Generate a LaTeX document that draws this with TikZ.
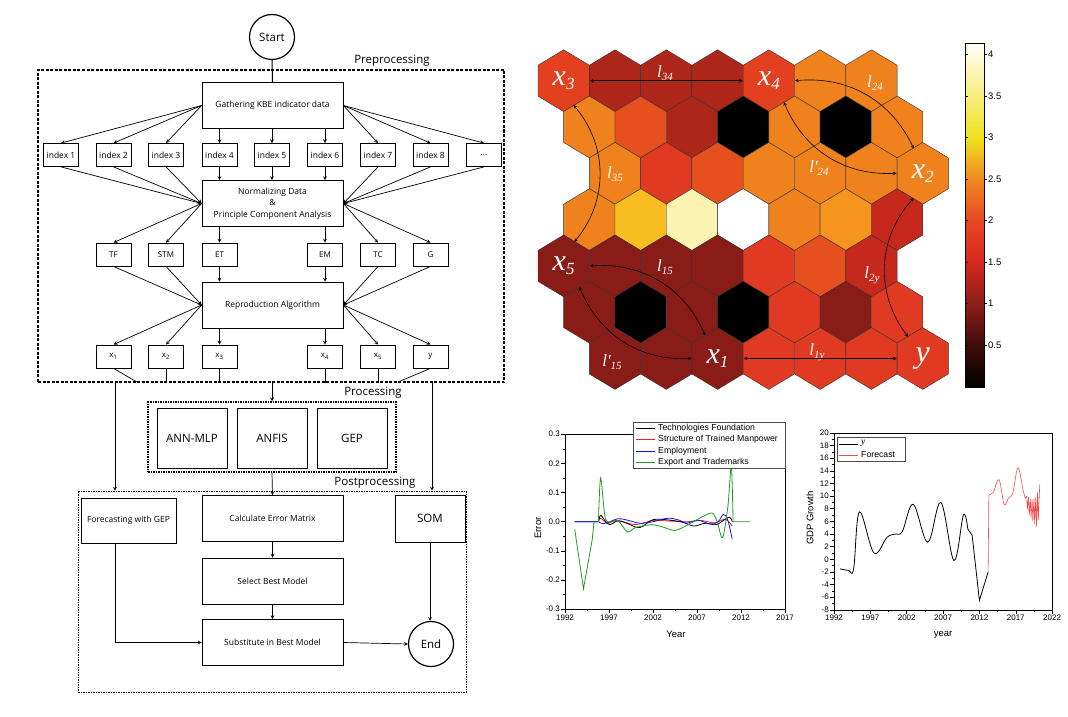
\documentclass[tikz,border=0pt]{standalone}
\usepackage{fontspec}
\setmainfont{Open Sans}
\newfontfamily\chartfont{Liberation Sans}
\newfontfamily\hexfont{Liberation Serif}
% SOM map colours
\definecolor{hA}{HTML}{E2401F}
\definecolor{hD}{HTML}{AE2619}
\definecolor{hO}{HTML}{F0821E}
\definecolor{hE}{HTML}{E6501E}
\definecolor{hR}{HTML}{E03A22}
\definecolor{hY}{HTML}{F8BE20}
\definecolor{hP}{HTML}{FCF3B2}
\definecolor{hL}{HTML}{F5951F}
\definecolor{hM}{HTML}{C6281C}
\definecolor{hB}{HTML}{8A1C17}
% colour bar stops
\definecolor{cb1}{HTML}{3E0D0B}
\definecolor{cb2}{HTML}{8E1D18}
\definecolor{cb3}{HTML}{D6291F}
\definecolor{cb4}{HTML}{E74822}
\definecolor{cb5}{HTML}{F08A22}
\definecolor{cb6}{HTML}{EEE21E}
\definecolor{cb7}{HTML}{F7EE7E}
\definecolor{cb8}{HTML}{FFFFF8}
\definecolor{plotgreen}{HTML}{1E9A1E}
\definecolor{plotred}{HTML}{F02020}
\definecolor{plotblue}{HTML}{1010F0}
\newcommand{\hexname}[2]{{\fontsize{30}{30}\selectfont #1}\raisebox{-4pt}{\fontsize{17}{17}\selectfont #2}}
\newcommand{\distname}[2]{{\fontsize{17}{17}\selectfont #1}\raisebox{-3pt}{\fontsize{11}{11}\selectfont #2}}
\begin{document}
\begin{tikzpicture}[x=1pt, y=-1pt,
  every node/.style={font=\fontsize{8.5}{10}\selectfont},
  stepbox/.style={draw, line width=0.8pt, fill=white, minimum width=141pt, minimum height=46pt, align=center, inner sep=1pt},
  idxbox/.style={draw, line width=0.8pt, fill=white, minimum width=35pt, minimum height=23pt, inner sep=1pt},
  modelbox/.style={draw, line width=0.8pt, minimum width=70pt, minimum height=60pt, font=\fontsize{11.5}{13}\selectfont},
  termnode/.style={circle, draw, line width=1.2pt, fill=white, minimum size=45pt, inner sep=0pt, font=\fontsize{11.5}{13}\selectfont},
  stagelabel/.style={font=\fontsize{11.5}{13}\selectfont},
  link/.style={->, line width=0.7pt},
  hexlab/.style={circle, minimum size=52pt, inner sep=0pt, text=white, font=\hexfont\itshape},
  distlab/.style={text=white, inner sep=0pt, font=\hexfont\itshape},
  hexarrow/.style={<->, line width=0.6pt},
  ticklab/.style={font=\chartfont\fontsize{8}{9}\selectfont, inner sep=1pt},
  axtitle/.style={font=\chartfont\fontsize{9.5}{11}\selectfont},
  legtext/.style={font=\chartfont\fontsize{8.7}{10}\selectfont, inner sep=0pt, anchor=west},
  >=stealth
]
\useasboundingbox (0,0) rectangle (1068,717);

% Preprocessing
\node[draw, line width=1.5pt, dash pattern=on 3pt off 1.5pt, minimum width=466pt, minimum height=312pt] (pre) at (271,226) {};
\node[stagelabel] (prelab) at (392,61) {Preprocessing};
\node[termnode] (start) at (272,37) {Start};
\node[stepbox] (gat) at (272.5,105.5) {Gathering KBE indicator data};
\draw[line width=1pt] (start.south) -- (gat.north);

\foreach \i/\x/\t in {1/61/index 1, 2/113.5/index 2, 3/166/index 3, 4/219.5/index 4, 5/272/index 5,
  6/325/index 6, 7/378/index 7, 8/430.5/index 8, 9/484/\ldots}
  \node[idxbox] (idx\i) at (\x,155) {\t};

\node[stepbox, font=\fontsize{8.5}{11.5}\selectfont] (norm) at (272.5,203.5) {Normalizing Data\\\&\\Principle Component Analysis};

\foreach \i in {1,2,3} {
  \draw[link] (gat.west) -- (idx\i.north);
  \draw[link] (idx\i.south) -- (norm.west);
}
\foreach \i in {4,5,6} {
  \draw[link] (gat.south -| idx\i.north) -- (idx\i.north);
  \draw[link] (idx\i.south) -- (idx\i.south |- norm.north);
}
\foreach \i in {7,8,9} {
  \draw[link] (gat.east) -- (idx\i.north);
  \draw[link] (idx\i.south) -- (norm.east);
}

% Components
\foreach \i/\x/\t in {1/113.5/TF, 2/166/STM, 3/219.5/ET, 4/325/EM, 5/378/TC, 6/430.5/G}
  \node[idxbox, font=\fontsize{8}{9}\selectfont] (comp\i) at (\x,254.5) {\t};
\node[stepbox] (repro) at (272.5,305) {Reproduction Algorithm};

\foreach \i in {1,2} {
  \draw[link] (norm.west) -- (comp\i.north);
  \draw[link] (comp\i.south) -- (repro.west);
}
\foreach \i in {3,4} {
  \draw[link] (norm.south -| comp\i.north) -- (comp\i.north);
  \draw[link] (comp\i.south) -- (comp\i.south |- repro.north);
}
\foreach \i in {5,6} {
  \draw[link] (norm.east) -- (comp\i.north);
  \draw[link] (comp\i.south) -- (repro.east);
}

% Variables
\foreach \i/\x/\t in {1/113.5/x\textsubscript{1}, 2/166/x\textsubscript{2}, 3/219.5/x\textsubscript{3},
  4/325/x\textsubscript{4}, 5/378/x\textsubscript{5}, 6/430.5/y}
  \node[idxbox, font=\fontsize{8}{9}\selectfont] (var\i) at (\x,356.5) {\t};

\foreach \i in {1,2} \draw[link] (repro.west) -- (var\i.north);
\foreach \i in {3,4} \draw[link] (repro.south -| var\i.north) -- (var\i.north);
\foreach \i in {5,6} \draw[link] (repro.east) -- (var\i.north);

\coordinate (tap1) at (137,382);
\coordinate (tap6) at (398,382);
\coordinate (tapL) at (115,382);
\coordinate (tapR) at (432,382);
\draw[line width=0.7pt] (var1.south) -- (tap1);
\foreach \i in {2,3,4,5} \draw[line width=0.7pt] (var\i.south) -- (var\i.south |- pre.south);
\draw[line width=0.7pt] (var6.south) -- (tap6);

% Processing
\node[draw, line width=1.5pt, dash pattern=on 1.5pt off 1pt, minimum width=248pt, minimum height=70pt] (proc) at (272,437) {};
\node[stagelabel] (proclab) at (373,393) {Processing};
\node[modelbox] (ann) at (192,438) {ANN-MLP};
\node[modelbox] (anfis) at (272,438) {ANFIS};
\node[modelbox] (gep) at (352,438) {GEP};
\draw[link] (proc.north |- pre.south) -- (proc.north);

% Postprocessing
\node[draw, line width=0.8pt, dash pattern=on 1.5pt off 1pt, minimum width=388pt, minimum height=201pt] (post) at (272,591.5) {};
\node[stagelabel] (postlab) at (375,483) {Postprocessing};
\node[stepbox, minimum width=95pt, minimum height=45pt] (fc) at (128.5,520.5) {Forecasting with GEP};
\node[stepbox] (calc) at (272.5,518.5) {Calculate Error Matrix};
\node[stepbox] (sel) at (272.5,581) {Select Best Model};
\node[stepbox] (sub) at (272.5,642.5) {Substitute in Best Model};
\node[stepbox, minimum width=70pt, minimum height=47pt, font=\fontsize{11.5}{13}\selectfont] (som) at (430,518.5) {SOM};
\node[termnode] (endc) at (431,644) {End};

\draw[link] (tapL) -- (tapL |- post.north);
\draw[link] (tapR) -- (tapR |- post.north);
\draw[link] (proc.south) -- (calc.north);
\draw[link] (calc) -- (sel);
\draw[link] (sel) -- (sub);
\draw[link] (tapL |- fc.south) |- (sub.west);
\draw[link] (som.south) -- (som.south |- endc.north);
\draw[link] (sub.east) -- (endc.west);

% SOM map
\foreach \r/\o/\cols in {
  0/0/{hA,hD,hD,hD,hA,hO,hO},
  1/1/{hO,hE,hD,black,hO,black,hO},
  2/2/{hO,hR,hE,hO,hO,hO,hO},
  3/1/{hO,hY,hP,white,hO,hL,hM},
  4/0/{hB,hB,hB,hB,hR,hE,hM},
  5/1/{hB,black,hB,black,hR,hB,hR},
  6/2/{hB,hB,hB,hR,hR,hR,hR}}{
  \foreach \cc [count=\k from 0] in \cols
    \filldraw[fill=\cc, draw=black!80, line width=0.4pt]
      (563.65+51.3*\k+25.65*\o, 80.7+46.3*\r) ++(0,-30.9) -- ++(25.65,15.45) -- ++(0,30.9)
      -- ++(-25.65,15.45) -- ++(-25.65,-15.45) -- ++(0,-30.9) -- cycle;
}

\node[hexlab] (hx3) at (563.65,80.7) {\hexname{x}{3}};
\node[hexlab] (hx4) at (768.85,80.7) {\hexname{x}{4}};
\node[hexlab] (hx2) at (922.75,173.3) {\hexname{x}{2}};
\node[hexlab] (hx5) at (563.65,265.9) {\hexname{x}{5}};
\node[hexlab] (hx1) at (717.55,358.5) {\hexname{x}{1}};
\node[hexlab] (hy) at (922.75,358.5) {{\fontsize{32}{32}\selectfont y}};

\node[distlab] (d34) at (665,73) {\distname{l}{34}};
\node[distlab] (d24) at (875,83) {\distname{l}{24}};
\node[distlab] (d24b) at (819,168) {\distname{l'}{24}};
\node[distlab] (d35) at (615,174) {\distname{l}{35}};
\node[distlab] (d15) at (665,267) {\distname{l}{15}};
\node[distlab] (d15b) at (612,362) {\distname{l'}{15}};
\node[distlab] (d1y) at (817,352) {\distname{l}{1y}};
\node[distlab] (d2y) at (872,275) {\distname{l}{2y}};

\draw[hexarrow] (hx3.east) -- (hx4.west);
\draw[hexarrow] (hx4.east) to[bend left=35] (hx2.110);
\draw[hexarrow] (hx4.-55) to[bend right=35] (hx2.west);
\draw[hexarrow] (hx3.-68) to[bend left=40] (hx5.66);
\draw[hexarrow] (hx5.east) to[bend left=35] (hx1.118);
\draw[hexarrow] (hx5.-53) to[bend right=35] (hx1.west);
\draw[hexarrow] (hx1.east) -- (hy.west);
\draw[hexarrow] (hx2.-110) to[bend right=40] (hy.124);

% Colour bar
\foreach \va/\vb/\ca/\cb in {0/0.5/black/cb1, 0.5/1/cb1/cb2, 1/1.5/cb2/cb3, 1.5/2/cb3/cb4,
  2/2.5/cb4/cb5, 2.5/3/cb5/cb6, 3/3.5/cb6/cb7, 3.5/4.14/cb7/cb8}
  \shade[bottom color=\ca, top color=\cb] (965,386.6-83.1*\va) rectangle (984,386.6-83.1*\vb);
\draw[line width=0.6pt] (965,43) rectangle (984,387);
\foreach \v [count=\i] in {0.5,1,1.5,2,2.5,3,3.5,4} {
  \draw[line width=0.5pt] (965,386.6-83.1*\v) -- ++(3,0);
  \draw[line width=0.5pt] (984,386.6-83.1*\v) -- ++(3,0);
  \node[ticklab, font=\chartfont\fontsize{9.5}{10}\selectfont, anchor=west] (cbl\i) at (987,386.6-83.1*\v) {\v};
}

% Error chart
\begin{scope}[xshift=565pt, yshift=-521.7pt, x=8.8pt, y=291.7pt]
  \draw[line width=0.6pt] (0,-0.3) rectangle (25,0.3);
  \foreach \v/\lab [count=\i] in {-0.3/-0.3,-0.2/-0.2,-0.1/-0.1,0/0.0,0.1/0.1,0.2/0.2,0.3/0.3} {
    \draw[line width=0.5pt] (0,\v) -- ++(-4pt,0);
    \node[ticklab, anchor=east] (ey\i) at ([xshift=-4pt]0,\v) {\lab};
  }
  \foreach \v in {-0.25,-0.15,-0.05,0.05,0.15,0.25} \draw[line width=0.5pt] (0,\v) -- ++(-2pt,0);
  \foreach \t/\lab [count=\i] in {0/1992,5/1997,10/2002,15/2007,20/2012,25/2017} {
    \draw[line width=0.5pt] (\t,-0.3) -- ++(0,-4pt);
    \node[ticklab, anchor=north] (ex\i) at ([yshift=-4pt]\t,-0.3) {\lab};
  }
  \foreach \t in {2.5,7.5,12.5,17.5,22.5} \draw[line width=0.5pt] (\t,-0.3) -- ++(0,-2pt);
  % curves
  \draw[plotred, line width=0.8pt] plot[smooth, tension=0.6] coordinates {(3.8,0) (4.05,0.012) (4.8,-0.005) (6,0.004) (8,-0.01) (10,0.004) (12,0.002) (14,0) (15.5,0.004) (17,-0.004) (18.2,0.008) (19,-0.015)};
  \draw[black, line width=0.8pt] (1.1,0) -- (3.8,0) plot[smooth, tension=0.6] coordinates {(3.8,0) (4.05,0.022) (4.5,0.005) (5.1,-0.01) (6,0.003) (7,-0.005) (8.5,-0.02) (10,0.007) (12,0.005) (13.5,-0.003) (14.6,-0.015) (16,-0.005) (17.2,-0.01) (18.6,0.015) (19,0)};
  \draw[plotblue, line width=0.8pt] (1.1,0) -- (3.8,0) plot[smooth, tension=0.6] coordinates {(3.8,0) (4.3,-0.007) (4.8,-0.004) (6,0.01) (7,0.006) (8.5,-0.005) (10,0) (11.7,0.012) (13,0.005) (13.8,-0.005) (15.1,0.005) (16.5,-0.008) (17.4,0) (18,0.025) (18.5,0.005) (19,-0.06)};
  \draw[plotgreen, line width=0.8pt] (1.1,-0.025) -- (2.1,-0.23) -- (3.1,-0.06) -- (3.3,0) -- (3.8,0)
    plot[smooth, tension=0.5] coordinates {(3.8,0) (4.05,0.15) (4.6,0.01) (5.5,0.002) (6,0.005) (7.1,-0.035) (8,-0.02) (9.8,-0.01) (11,-0.017) (12.5,-0.03) (14,-0.01) (14.6,0) (15.5,0.015) (16.7,0.03) (17.3,0) (17.9,-0.055) (18.5,0.05) (18.9,0.19) (19.1,0)} -- (21,0);
\end{scope}
\node[draw=black!70, fill=white, line width=0.5pt, minimum width=152pt, minimum height=46pt, inner sep=0pt] (errleg) at (709,445) {};
\foreach \lc/\ly/\lt [count=\i] in {black/428/Technologies Foundation, plotred/439.5/Structure of Trained Manpower,
  plotblue/451/Employment, plotgreen/462/Export and Trademarks} {
  \draw[color=\lc, line width=1pt] (636,\ly) -- (655,\ly);
  \node[legtext] (el\i) at (658,\ly) {\lt};
}
\node[axtitle, rotate=90] (errytitle) at (538,528) {Error};
\node[axtitle] (errxtitle) at (676,634) {Year};

% GDP chart
\begin{scope}[xshift=834pt, yshift=-559.3pt, x=7.27pt, y=6.32pt]
  \draw[line width=0.6pt] (0,-8) rectangle (30,20);
  \foreach \v [count=\i] in {-8,-6,...,20} {
    \draw[line width=0.5pt] (0,\v) -- ++(-4pt,0);
    \node[ticklab, anchor=east] (gy\i) at ([xshift=-4pt]0,\v) {\v};
  }
  \foreach \v in {-7,-5,...,19} \draw[line width=0.5pt] (0,\v) -- ++(-2pt,0);
  \foreach \t/\lab [count=\i] in {0/1992,5/1997,10/2002,15/2007,20/2012,25/2017,30/2022} {
    \draw[line width=0.5pt] (\t,-8) -- ++(0,-4pt);
    \node[ticklab, anchor=north] (gx\i) at ([yshift=-4pt]\t,-8) {\lab};
  }
  \foreach \t in {2.5,7.5,12.5,17.5,22.5,27.5} \draw[line width=0.5pt] (\t,-8) -- ++(0,-2pt);
  % curves
  \draw[black, line width=0.8pt] plot[smooth, tension=0.6] coordinates {(0.8,-1.5) (2,-1.75) (2.7,-1.5) (3.5,7.5) (5.5,1.0) (7.3,3.5) (8.5,4.0) (9.4,4.4) (10.9,8.7) (12.9,2.7) (14.7,9.0) (16.5,-0.2) (17.8,7.0) (18.4,4.8)} -- (19,3.8) -- (20,-6.5) -- (21.2,-2);
  \draw[plotred!80!white, line width=0.6pt] (21.2,-2) -- (21.3,10.2) plot[smooth, tension=0.6] coordinates {(21.3,10.2) (21.9,10.6) (22.7,12.6) (23.4,8.7) (24,9.7) (24.6,10.5) (25.3,14.5) (26,11) (26.3,9.7)}
    -- (26.5,10) -- (26.6,8) -- (26.75,9.8) -- (26.85,7) -- (27,9.6) -- (27.1,6.5) -- (27.25,9.5) -- (27.35,6) -- (27.5,9.6) -- (27.6,5.6) -- (27.75,9.8) -- (27.85,5.2) -- (28,10.6) -- (28.1,6.2) -- (28.3,11.8);
\end{scope}
\node[draw=black!70, fill=white, line width=0.5pt, minimum width=68pt, minimum height=24pt, inner sep=0pt] (gdpleg) at (871,449) {};
\draw[black, line width=1pt] (839,444) -- (858,444);
\node[legtext, font=\hexfont\itshape\fontsize{9.5}{10}\selectfont] (gl1) at (861,443) {y};
\draw[plotred!80!white, line width=0.8pt] (839,455) -- (858,455);
\node[legtext] (gl2) at (861,455) {Forecast};
\node[axtitle, rotate=90] (gdpytitle) at (810,518) {GDP Growth};
\node[axtitle] (gdpxtitle) at (943,635) {year};
\end{tikzpicture}
\end{document}
